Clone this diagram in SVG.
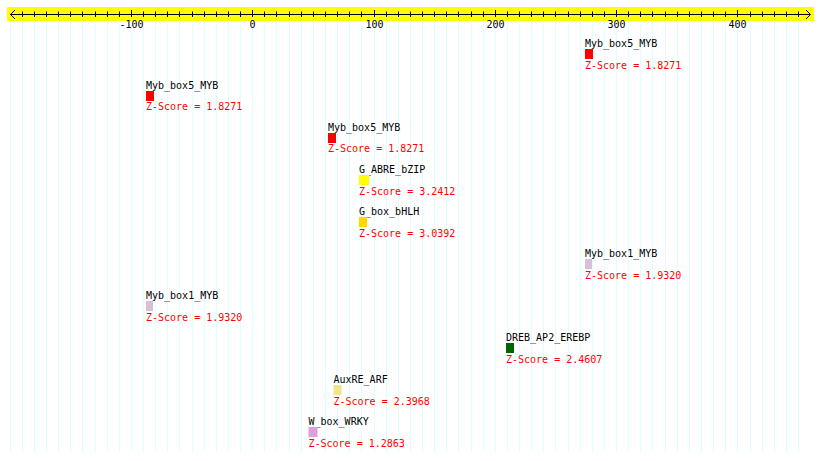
<svg xmlns="http://www.w3.org/2000/svg" width="820" height="461" viewBox="0 0 820 461">
<style>
text{font-family:"DejaVu Sans Mono","Liberation Mono",monospace;font-size:10px}
.lbl{fill:#000}
.z{fill:#ff0000}
.ax{fill:#000}
.grid{stroke:#ddffff;stroke-width:1;fill:none}
.tick{stroke:#000;stroke-width:1;fill:none}
</style>
<rect x="0" y="0" width="820" height="461" fill="#ffffff"/>
<g id="grid">
<path class="grid" d="M10.5 21V452M22.5 21V452M34.5 21V452M46.5 21V452M58.5 21V452M70.5 21V452M82.5 21V452M95.5 21V452M107.5 21V452M119.5 21V452M131.5 21V452M143.5 21V452M155.5 21V452M167.5 21V452M179.5 21V452M192.5 21V452M204.5 21V452M216.5 21V452M228.5 21V452M240.5 21V452M252.5 21V452M264.5 21V452M276.5 21V452M289.5 21V452M301.5 21V452M313.5 21V452M325.5 21V452M337.5 21V452M349.5 21V452M361.5 21V452M374.5 21V452M386.5 21V452M398.5 21V452M410.5 21V452M422.5 21V452M434.5 21V452M446.5 21V452M458.5 21V452M471.5 21V452M483.5 21V452M495.5 21V452M507.5 21V452M519.5 21V452M531.5 21V452M543.5 21V452M555.5 21V452M568.5 21V452M580.5 21V452M592.5 21V452M604.5 21V452M616.5 21V452M628.5 21V452M640.5 21V452M652.5 21V452M665.5 21V452M677.5 21V452M689.5 21V452M701.5 21V452M713.5 21V452M725.5 21V452M737.5 21V452M750.5 21V452M762.5 21V452M774.5 21V452M786.5 21V452M798.5 21V452"/>
</g>
<g id="axis">
<rect x="7" y="7" width="807" height="14" fill="#ffff00"/>
<path class="tick" d="M10 14.5H810M15 10L10.5 14.5L15 19M806 10L810.5 14.5L806 19"/>
<path class="tick" d="M22.5 11.5V17M34.5 11.5V17M46.5 11.5V17M58.5 11.5V17M70.5 11.5V17M82.5 11.5V17M95.5 11.5V17M107.5 11.5V17M119.5 11.5V17M131.5 10V17M143.5 11.5V17M155.5 11.5V17M167.5 11.5V17M179.5 11.5V17M192.5 11.5V17M204.5 11.5V17M216.5 11.5V17M228.5 11.5V17M240.5 11.5V17M252.5 10V17M264.5 11.5V17M276.5 11.5V17M289.5 11.5V17M301.5 11.5V17M313.5 11.5V17M325.5 11.5V17M337.5 11.5V17M349.5 11.5V17M361.5 11.5V17M374.5 10V17M386.5 11.5V17M398.5 11.5V17M410.5 11.5V17M422.5 11.5V17M434.5 11.5V17M446.5 11.5V17M458.5 11.5V17M471.5 11.5V17M483.5 11.5V17M495.5 10V17M507.5 11.5V17M519.5 11.5V17M531.5 11.5V17M543.5 11.5V17M555.5 11.5V17M568.5 11.5V17M580.5 11.5V17M592.5 11.5V17M604.5 11.5V17M616.5 10V17M628.5 11.5V17M640.5 11.5V17M652.5 11.5V17M665.5 11.5V17M677.5 11.5V17M689.5 11.5V17M701.5 11.5V17M713.5 11.5V17M725.5 11.5V17M737.5 10V17M750.5 11.5V17M762.5 11.5V17M774.5 11.5V17M786.5 11.5V17M798.5 11.5V17"/>
<g class="ax" text-anchor="middle">
<text x="131.5" y="28">-100</text>
<text x="252.5" y="28">0</text>
<text x="374.5" y="28">100</text>
<text x="495.5" y="28">200</text>
<text x="616.5" y="28">300</text>
<text x="737.5" y="28">400</text>
</g>
</g>
<g id="connectors"></g>
<g id="node-myb5-a">
<text class="lbl" x="585" y="47">Myb_box5_MYB</text>
<rect x="585" y="49" width="8" height="10" fill="#ff0000"/>
<text class="z" x="585" y="69">Z-Score = 1.8271</text>
</g>
<g id="node-myb5-b">
<text class="lbl" x="146" y="89">Myb_box5_MYB</text>
<rect x="146" y="91" width="8" height="10" fill="#ff0000"/>
<text class="z" x="146" y="110">Z-Score = 1.8271</text>
</g>
<g id="node-myb5-c">
<text class="lbl" x="328" y="131">Myb_box5_MYB</text>
<rect x="328" y="133" width="8" height="10" fill="#ff0000"/>
<text class="z" x="328" y="152">Z-Score = 1.8271</text>
</g>
<g id="node-gabre">
<text class="lbl" x="359" y="173">G_ABRE_bZIP</text>
<rect x="359" y="175" width="10" height="10" fill="#ffff00"/>
<text class="z" x="359" y="195">Z-Score = 3.2412</text>
</g>
<g id="node-gbox">
<text class="lbl" x="359" y="215">G_box_bHLH</text>
<rect x="359" y="217" width="8" height="10" fill="#ffd700"/>
<text class="z" x="359" y="237">Z-Score = 3.0392</text>
</g>
<g id="node-myb1-a">
<text class="lbl" x="585" y="257">Myb_box1_MYB</text>
<rect x="585" y="259" width="7" height="10" fill="#d8bfd8"/>
<text class="z" x="585" y="279">Z-Score = 1.9320</text>
</g>
<g id="node-myb1-b">
<text class="lbl" x="146" y="299">Myb_box1_MYB</text>
<rect x="146" y="301" width="7" height="10" fill="#d8bfd8"/>
<text class="z" x="146" y="321">Z-Score = 1.9320</text>
</g>
<g id="node-dreb">
<text class="lbl" x="506" y="341">DREB_AP2_EREBP</text>
<rect x="506" y="343" width="8" height="10" fill="#006400"/>
<text class="z" x="506" y="363">Z-Score = 2.4607</text>
</g>
<g id="node-auxre">
<text class="lbl" x="333.5" y="383">AuxRE_ARF</text>
<rect x="333.5" y="385" width="8" height="10" fill="#f0e68c"/>
<text class="z" x="333.5" y="405">Z-Score = 2.3968</text>
</g>
<g id="node-wbox">
<text class="lbl" x="308.5" y="425">W_box_WRKY</text>
<rect x="308.5" y="427" width="9" height="10" fill="#dda0dd"/>
<text class="z" x="308.5" y="447">Z-Score = 1.2863</text>
</g>
</svg>
